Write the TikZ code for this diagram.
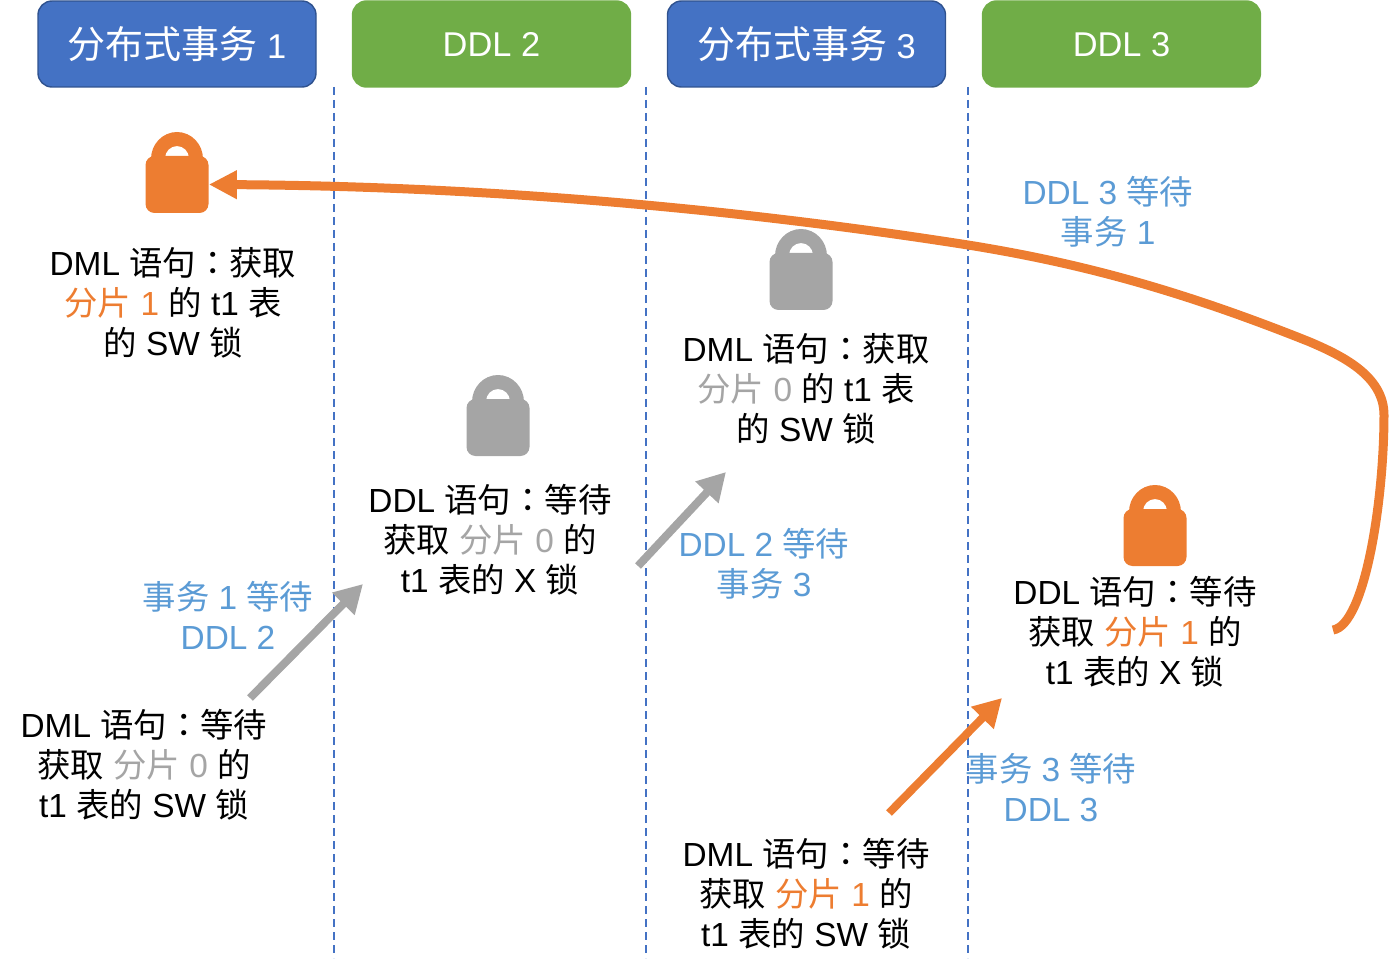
\documentclass[tikz,border=0pt]{standalone}
\usepackage{fontspec}
\setmainfont{Liberation Sans}
\newfontfamily\cjk{Noto Sans CJK SC}
\newfontfamily\cjktc{Noto Sans CJK TC}
\usetikzlibrary{arrows.meta}
\definecolor{txblue}{HTML}{4472C4}
\definecolor{txborder}{HTML}{2F528F}
\definecolor{ddlgreen}{HTML}{70AD47}
\definecolor{lockorange}{HTML}{ED7D31}
\definecolor{lockgray}{HTML}{A5A5A5}
\definecolor{waitblue}{HTML}{5B9BD5}
\newcommand{\zh}[1]{{\cjk #1}}
\newcommand{\headzh}[1]{{\fontsize{19}{22}\selectfont\cjk #1}}
\newcommand{\cln}{{\cjktc ：}}
\newcommand{\partgray}{{\color{lockgray}\zh{分片} 0}}
\newcommand{\partorange}{{\color{lockorange}\zh{分片} 1}}
\newcommand{\stmtfont}{\fontsize{16.7}{20}\selectfont\lineskiplimit=-20pt\relax}
\tikzset{
    headbox/.style={rounded corners=7pt,minimum width=139pt,minimum height=43pt,text=white,font=\fontsize{17.2}{22}\selectfont,inner sep=0pt,line width=0.7pt},
    stmt/.style={align=center,inner sep=0pt,font=\stmtfont},
    waitlabel/.style={stmt,text=waitblue},
    sepline/.style={txblue,line width=0.7pt,dash pattern=on 4pt off 2.5pt},
    waitarrow/.style={line width=4pt,-{Triangle[length=14pt,width=15pt]}},
    lock/.pic={
        \node[fill=#1,rounded corners=4.5pt,minimum width=31.5pt,minimum height=28.5pt,inner sep=0pt] (-body) at (0,26.5) {};
        \fill[#1,even odd rule] (-26,1) arc[start angle=180,end angle=360,x radius=26,y radius=27] -- cycle
            (-12,0) arc[start angle=180,end angle=360,x radius=12,y radius=12] -- cycle;
    }
}
\begin{document}
\begin{tikzpicture}[x=0.5pt,y=-0.5pt]
    \useasboundingbox (0,0) rectangle (1389,974);
    % Header
    \node[headbox,fill=txblue,draw=txborder] (txone) at (177,44) {\headzh{分布式事务} 1};
    \node[headbox,fill=ddlgreen,draw=ddlgreen,text depth=-1pt] (ddltwo) at (491.5,44) {DDL 2};
    \node[headbox,fill=txblue,draw=txborder] (txthree) at (806.5,44) {\headzh{分布式事务} 3};
    \node[headbox,fill=ddlgreen,draw=ddlgreen,text depth=-1pt] (ddlthree) at (1121.5,44) {DDL 3};
    % Separator
    \foreach \x in {334,646,968}
        \draw[sepline] (\x,87) -- (\x,958);
    % Locks
    \pic (lockone) at (177,158) {lock=lockorange};
    \pic (locktwo) at (498,401) {lock=lockgray};
    \pic (lockthree) at (801,255) {lock=lockgray};
    \pic (lockfour) at (1155,511) {lock=lockorange};
    % Statements
    \node[stmt] (stmtone) at (173,303) {DML \zh{语句}\cln\zh{获取}\\\partorange{} \zh{的} t1 \zh{表}\\\zh{的} SW \zh{锁}};
    \node[stmt] (stmttwo) at (490,540) {DDL \zh{语句}\cln\zh{等待}\\\zh{获取} \partgray{} \zh{的}\\t1 \zh{表的} X \zh{锁}};
    \node[stmt] (stmtthree) at (806,389) {DML \zh{语句}\cln\zh{获取}\\\partgray{} \zh{的} t1 \zh{表}\\\zh{的} SW \zh{锁}};
    \node[stmt] (stmtfour) at (1135,632) {DDL \zh{语句}\cln\zh{等待}\\\zh{获取} \partorange{} \zh{的}\\t1 \zh{表的} X \zh{锁}};
    \node[stmt] (waitzero) at (144,765) {DML \zh{语句}\cln\zh{等待}\\\zh{获取} \partgray{} \zh{的}\\t1 \zh{表的} SW \zh{锁}};
    \node[stmt] (waitone) at (806,894) {DML \zh{语句}\cln\zh{等待}\\\zh{获取} \partorange{} \zh{的}\\t1 \zh{表的} SW \zh{锁}};
    % Wait labels
    \node[waitlabel] (labelone) at (228,615) {\zh{事务} 1 \zh{等待}\\DDL 2};
    \node[waitlabel] (labeltwo) at (764,564) {DDL 2 \zh{等待}\\\zh{事务} 3};
    \node[waitlabel] (labelthree) at (1051,788) {\zh{事务} 3 \zh{等待}\\DDL 3};
    \node[waitlabel] (labelfour) at (1108,212) {DDL 3 \zh{等待}\\\zh{事务} 1};
    % Arrows
    \coordinate (fromzero) at (250,698);
    \coordinate (tostmttwo) at (363,584);
    \coordinate (fromtwo) at (638,566);
    \coordinate (tostmtthree) at (726,472);
    \coordinate (fromone) at (889,813);
    \coordinate (tostmtfour) at (1002,698);
    \coordinate (fromfour) at (1333,630);
    \draw[waitarrow,lockgray] (fromzero) -- (tostmttwo);
    \draw[waitarrow,lockgray] (fromtwo) -- (tostmtthree);
    \draw[waitarrow,lockorange] (fromone) -- (tostmtfour);
    \draw[waitarrow,lockorange,line width=4.5pt,-{Triangle[length=14pt,width=13.5pt]}] (fromfour) .. controls (1365,625) and (1384,500) .. (1384,415)
        .. controls (1384,375) and (1340,355) .. (1310,342)
        .. controls (1180,290) and (1080,263) .. (968,245)
        .. controls (700,203) and (450,186) .. (lockone-body.east);
\end{tikzpicture}
\end{document}
